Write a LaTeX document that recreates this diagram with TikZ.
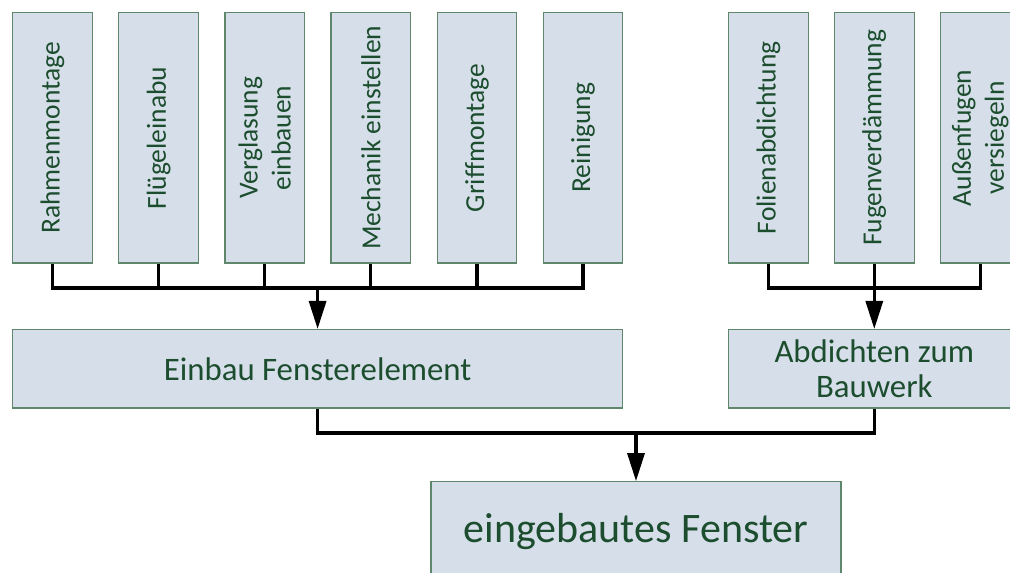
\documentclass[tikz,border=0pt]{standalone}
\usepackage{fontspec}
\setmainfont{Carlito}
\usetikzlibrary{arrows.meta}

\definecolor{boxfill}{RGB}{214,223,233}
\definecolor{boxdraw}{RGB}{94,135,108}
\definecolor{boxtext}{RGB}{28,77,46}

\tikzset{
  box/.style={draw=boxdraw, line width=1.2pt, fill=boxfill, text=boxtext,
              inner sep=2pt, align=center},
  taskbox/.style={box, rotate=90, minimum width=250.3pt, minimum height=79.6pt,
                  font=\fontsize{27.5}{33}\selectfont},
  stagebox/.style={box, minimum height=78.5pt, font=\fontsize{32.8}{35}\selectfont},
  resultbox/.style={box, minimum width=410pt, minimum height=100pt,
                    font=\fontsize{42}{48}\selectfont},
  wire/.style={line width=3.2pt, draw=black},
  flow/.style={wire, -{Triangle[length=28pt,width=17pt]}},
}

\begin{document}
\begin{tikzpicture}[x=1pt,y=-1pt]
  \useasboundingbox (0,0) rectangle (1010,573);
  \clip (0,0) rectangle (1010,573);

  % work steps of the window element
  \node[taskbox] (r1) at (52.5,137.85)  {Rahmenmontage};
  \node[taskbox] (r2) at (158.6,137.85) {Flügeleinabu};
  \node[taskbox] (r3) at (264.7,137.85) {Verglasung\\einbauen};
  \node[taskbox] (r4) at (370.8,137.85) {Mechanik einstellen};
  \node[taskbox] (r5) at (476.9,137.85) {Griffmontage};
  \node[taskbox] (r6) at (583.0,137.85) {Reinigung};

  % sealing steps
  \node[taskbox] (s1) at (768.5,137.85) {Folienabdichtung};
  \node[taskbox] (s2) at (874.3,137.85) {Fugenverdämmung};
  \node[taskbox] (s3) at (980.3,137.85) {Außenfugen\\versiegeln};

  % stages
  \node[stagebox, minimum width=609.8pt] (einbau)    at (317.6,368.8) {Einbau Fensterelement};
  \node[stagebox, minimum width=291.2pt] (abdichten) at (874.3,368.8) {Abdichten zum\\Bauwerk};

  % result
  \node[resultbox] (fenster) at (636,531.7) {eingebautes Fenster};

  % collecting bars
  \coordinate (barT) at (0,288);
  \coordinate (barB) at (0,433);

  \draw[wire] (r1.west) |- (r6.west |- barT) -- (r6.west);
  \foreach \n in {r2,r3,r4,r5}
    \draw[wire] (\n.west) -- (\n.west |- barT);
  \draw[flow] (einbau.north |- barT) -- (einbau.north);

  \draw[wire] (s1.west) |- (s3.west |- barT) -- (s3.west);
  \draw[flow] (s2.west) -- (abdichten.north);

  \draw[wire] (einbau.south) |- (abdichten.south |- barB) -- (abdichten.south);
  \draw[flow] (fenster.north |- barB) -- (fenster.north);
\end{tikzpicture}
\end{document}
